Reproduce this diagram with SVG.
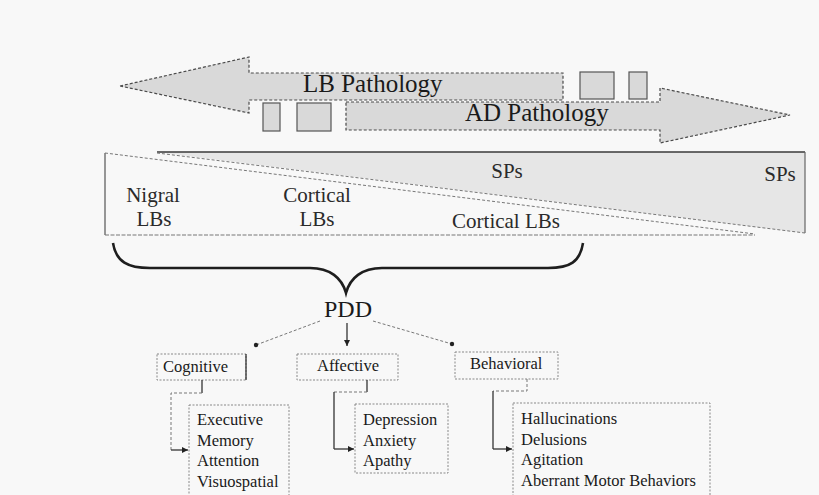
<svg xmlns="http://www.w3.org/2000/svg" width="819" height="495" viewBox="0 0 819 495">
<defs>
<style>
.t{font-family:"Liberation Serif","Times New Roman",serif;fill:#1a1a1a}
.big{font-size:25px}
.mid{font-size:21px;fill:#2a2a2a}
.sm{font-size:16.5px}
.arrowshape{fill:#d9d9d9;stroke:#4a4a4a;stroke-width:1.2;stroke-dasharray:3 2}
.blk{fill:#d9d9d9;stroke:#555;stroke-width:1.2}
.box{fill:none;stroke:#888;stroke-width:1;stroke-dasharray:2 1.5}
.dash{fill:none;stroke:#777;stroke-width:1;stroke-dasharray:3 2}
.solid{fill:none;stroke:#333;stroke-width:1.3}
</style>
<marker id="ah" markerWidth="8" markerHeight="8" refX="6" refY="3" orient="auto" markerUnits="userSpaceOnUse">
<path d="M0,0 L6,3 L0,6 Z" fill="#222"/>
</marker>
<marker id="dot" markerWidth="6" markerHeight="6" refX="3" refY="3" markerUnits="userSpaceOnUse">
<circle cx="3" cy="3" r="2.2" fill="#222"/>
</marker>
</defs>
<rect width="819" height="495" fill="#f8f8f8"/>

<g id="lb-pathology">
<polygon class="arrowshape" points="120,86 249,57 249,73 563,73 563,100 249,100 249,113"/>
<rect class="blk" x="580" y="72" width="34" height="27"/>
<rect class="blk" x="629" y="72" width="18" height="27"/>
<text class="t big" x="303" y="92">LB Pathology</text>
</g>

<g id="ad-pathology">
<rect class="blk" x="263" y="103" width="17" height="28"/>
<rect class="blk" x="297" y="103" width="34" height="28"/>
<polygon class="arrowshape" points="346,102 660,102 660,88 790,115 660,143 660,130 346,130"/>
<text class="t big" x="465" y="121">AD Pathology</text>
</g>

<g id="gradient-box">
<polygon points="157,152 805,152 805,233" fill="#e6e6e6"/>
<line x1="157" y1="152" x2="805" y2="152" stroke="#3a3a3a" stroke-width="1.6"/>
<line x1="805" y1="152" x2="805" y2="233" stroke="#666" stroke-width="1.2"/>
<line x1="105" y1="153" x2="105" y2="235" stroke="#555" stroke-width="1.2"/>
<line x1="105" y1="235" x2="755" y2="235" stroke="#777" stroke-width="1.2" stroke-dasharray="4 1.5"/>
<line x1="105" y1="153" x2="755" y2="234" class="dash" stroke="#555" stroke-width="1.2"/>
<line x1="157" y1="153" x2="805" y2="233" class="dash" stroke="#555" stroke-width="1.2"/>
<text class="t mid" x="507" y="178" text-anchor="middle">SPs</text>
<text class="t mid" x="780" y="181" text-anchor="middle">SPs</text>
<text class="t mid" x="153" y="202" text-anchor="middle">Nigral</text>
<text class="t mid" x="154" y="226" text-anchor="middle">LBs</text>
<text class="t mid" x="317" y="202" text-anchor="middle">Cortical</text>
<text class="t mid" x="317" y="226" text-anchor="middle">LBs</text>
<text class="t mid" x="506" y="228" text-anchor="middle">Cortical LBs</text>
</g>

<g id="pdd">
<text class="t" font-size="24" x="348" y="317" text-anchor="middle">PDD</text>
</g>

<g id="cognitive">
<rect class="box" x="157" y="354" width="89" height="26"/>
<line x1="246" y1="354" x2="246" y2="380" stroke="#333" stroke-width="1.3"/>
<text class="t sm" x="163" y="372">Cognitive</text>
</g>
<g id="affective">
<rect class="box" x="297" y="354" width="101" height="26"/>
<text class="t sm" x="348" y="371" text-anchor="middle">Affective</text>
</g>
<g id="behavioral">
<rect class="box" x="455" y="352" width="103" height="27"/>
<text class="t sm" x="470" y="369">Behavioral</text>
</g>

<g id="cognitive-list">
<rect class="box" x="189" y="405" width="100" height="100"/>
<text class="t sm" x="197" y="425">Executive</text>
<text class="t sm" x="197" y="446">Memory</text>
<text class="t sm" x="197" y="466">Attention</text>
<text class="t sm" x="197" y="487">Visuospatial</text>
</g>
<g id="affective-list">
<rect class="box" x="355" y="404" width="93" height="69"/>
<text class="t sm" x="363" y="425">Depression</text>
<text class="t sm" x="363" y="446">Anxiety</text>
<text class="t sm" x="363" y="466">Apathy</text>
</g>
<g id="behavioral-list">
<rect class="box" x="513" y="403" width="197" height="100"/>
<text class="t sm" x="521" y="424">Hallucinations</text>
<text class="t sm" x="521" y="445">Delusions</text>
<text class="t sm" x="521" y="465">Agitation</text>
<text class="t sm" x="521" y="486">Aberrant Motor Behaviors</text>
</g>

<g id="connectors">
<path d="M113,243 C116,262 128,268 150,268 L310,268 C330,268 342,278 346,293 C350,278 362,268 382,268 L548,268 C570,268 580,262 583,243" fill="none" stroke="#1e1e1e" stroke-width="2.6"/>
<line class="dash" x1="320" y1="321" x2="256" y2="345" marker-end="url(#dot)"/>
<line class="solid" x1="347" y1="323" x2="347" y2="346" marker-end="url(#ah)"/>
<line class="dash" x1="373" y1="321" x2="452" y2="344" marker-end="url(#dot)"/>
<polyline class="solid" points="202,380 202,393"/>
<polyline class="dash" points="202,393 171,393 171,450"/>
<line class="solid" x1="171" y1="450" x2="188" y2="450" marker-end="url(#ah)"/>
<polyline class="solid" points="367,380 367,392"/>
<polyline class="dash" points="367,392 334,392"/>
<polyline class="solid" points="334,392 334,449"/>
<line class="solid" x1="334" y1="449" x2="354" y2="449" marker-end="url(#ah)"/>
<polyline class="dash" points="527,379 527,391 493,391"/>
<polyline class="solid" points="493,391 493,449"/>
<line class="solid" x1="493" y1="449" x2="512" y2="449" marker-end="url(#ah)"/>
</g>
</svg>
